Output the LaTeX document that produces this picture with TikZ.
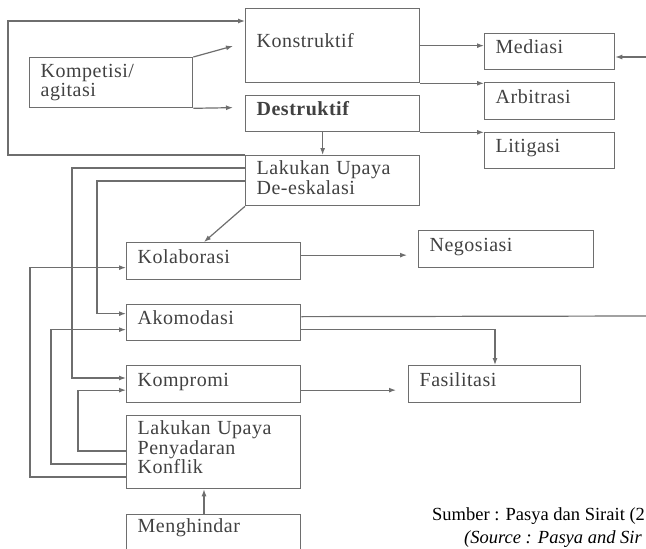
\documentclass[tikz,border=0pt]{standalone}
\usepackage{fontspec}
\setmainfont{Liberation Serif}
\newfontfamily\hurufkotak[LetterSpace=2.5]{Liberation Serif}
\usetikzlibrary{arrows.meta,calc}
\definecolor{GarisClr}{RGB}{110,110,110}
\definecolor{TeksClr}{RGB}{65,65,65}

\tikzset{
  kotak/.style={draw=GarisClr,line width=1.3pt,anchor=north west,align=left,
    inner xsep=11pt,inner ysep=2pt,text=TeksClr,
    font=\hurufkotak\fontsize{20}{19.5}\selectfont},
  satu/.style={kotak,text height=13pt,text depth=9pt},
  garis/.style={draw=GarisClr,line width=1.2pt},
  panah/.style={garis,-{Latex[length=7pt,width=5pt]}},
  sumber/.style={anchor=base west,inner sep=0pt,font=\fontsize{18.5}{20}\selectfont}
}

\begin{document}
\begin{tikzpicture}[x=1pt,y=-1pt]
\useasboundingbox (0,0) rectangle (646,549);
\clip (0,0) rectangle (646,549);

\node[satu,text width=152pt,minimum height=74pt] (kons) at (245,8) {Konstruktif};
\node[satu,text width=152pt,minimum height=36pt] (des) at (245,95) {\textbf{Destruktif}};
\node[kotak,text width=141pt,minimum height=50pt] (komp) at (29,57) {Kompetisi/\\agitasi};
\node[satu,text width=108pt,minimum height=36pt] (med) at (484,33) {Mediasi};
\node[satu,text width=108pt,minimum height=37pt] (arb) at (484,82) {Arbitrasi};
\node[satu,text width=108pt,minimum height=36pt] (lit) at (484,132) {Litigasi};
\node[kotak,text width=152pt,minimum height=50pt,text depth=25.7pt] (deesk) at (245,155) {Lakukan Upaya\\De-eskalasi};
\node[satu,text width=152pt,minimum height=37pt] (kol) at (126,242) {Kolaborasi};
\node[satu,text width=153pt,minimum height=37pt] (neg) at (418,230) {Negosiasi};
\node[satu,text width=152pt,minimum height=36pt] (ako) at (126,304) {Akomodasi};
\node[satu,text width=152pt,minimum height=37pt] (kompr) at (126,365) {Kompromi};
\node[satu,text width=150pt,minimum height=37pt] (fas) at (408,365) {Fasilitasi};
\node[kotak,text width=152pt,minimum height=73pt,text depth=48.7pt] (sadar) at (126,415) {Lakukan Upaya\\Penyadaran\\Konflik};
\node[kotak,text width=152pt,inner ysep=4pt,text depth=40pt] (hindar) at (126,514) {Menghindar};

\coordinate (tepiA) at (646,57);
\coordinate (tepiB) at (646,316);

% jalur atas
\draw[panah] (deesk.north west) -- ++(-237,0) |- ([yshift=-13pt]kons.north west);
\draw[panah] (komp.north east) -- ([xshift=-12pt,yshift=-38pt]kons.north west);
\draw[panah] (komp.south east) -- ([xshift=-12pt,yshift=6pt]des.west);
\draw[panah] (kons.east) -- (kons.east -| med.west);
\draw[panah] (kons.south east) -- (kons.south east -| arb.west);
\draw[panah] (des.south east) -- (des.south east -| lit.west);
\draw[panah] (tepiA) -- (tepiA -| med.east);
\draw[panah] ([xshift=-10pt]des.south) -- ([xshift=-10pt]deesk.north);

% jalur tengah
\draw[panah] (deesk.south west) -- ([xshift=78pt]kol.north west);
\draw[panah] ([yshift=-13pt]deesk.north west) -- ++(-173,0) |- ([yshift=-13pt]kompr.north west);
\draw[panah] ([yshift=-26pt]deesk.north west) -- ++(-148,0) |- ([yshift=9pt]ako.west);
\draw[panah] ([yshift=6pt]kol.east) -- ([xshift=-11pt,yshift=-6pt]neg.west);
\draw[garis] ([yshift=6pt]ako.east) -- (tepiB);
\draw[panah] ([yshift=-7pt]ako.east) -| ([xshift=87pt]fas.north west);
\draw[panah] ([yshift=-6pt]kompr.east) -- ([xshift=-12pt,yshift=-6pt]fas.west);

% jalur bawah
\draw[panah] ([yshift=-36pt]sadar.north west) -- ++(-48,0) |- ([yshift=-6pt]kompr.west);
\draw[panah] ([yshift=-49pt]sadar.north west) -- ++(-75,0) |- ([yshift=-7pt]ako.west);
\draw[panah] ([yshift=-62pt]sadar.north west) -- ++(-96,0) |- ([yshift=-6.5pt]kol.west);
\draw[panah] ([xshift=78pt]hindar.north west) -- ([xshift=78pt]sadar.south west);

\node[sumber] (sbr) at (432,520) {Sumber : Pasya dan Sirait (2};
\node[sumber,font=\fontsize{18.5}{20}\selectfont\itshape] (src) at (464,543) {(Source : Pasya and Sir};

\end{tikzpicture}
\end{document}
